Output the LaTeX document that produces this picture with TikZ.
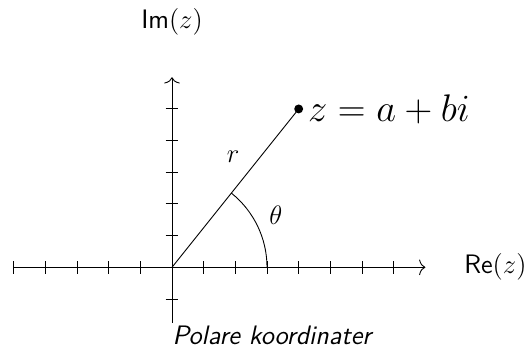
\documentclass[tikz,border=0pt]{standalone}
\usetikzlibrary{arrows.meta}
\begin{document}
\begin{tikzpicture}[x=0.5cm,y=0.5cm,
  axis/.style={thin,-{To[length=2.8pt,width=7pt]}},
  tick/.style={thin}]
\useasboundingbox (-5.431,-2.706) rectangle (11.146,8.44);
% axes
\coordinate (xs) at (-5,0);
\coordinate (xe) at (8,0);
\coordinate (ys) at (0,-1.75);
\coordinate (ye) at (0,6);
\coordinate (O) at (0,0);
\draw[axis] (xs) -- (xe);
\draw[axis] (ys) -- (ye);
\foreach \i in {-5,...,-1,1,2,...,7} \draw[tick] (\i,-0.2) -- (\i,0.2);
\foreach \j in {-1,1,2,...,5} \draw[tick] (-0.2,\j) -- (0.2,\j);
% point
\coordinate (P) at (4,5);
\draw (O) -- (P);
\fill (P) circle (2pt);
\node[anchor=west,inner sep=4pt] (zl) at (P) {\fontsize{16.5}{19}\selectfont $z=a+bi$};
% arc
\draw (3,0) arc[start angle=0,end angle={atan2(5,4)},radius=3];
\node (r) at (1.93,3.48) {\large $r$};
\node (th) at (3.28,1.65) {\large $\theta$};
% labels
\node (im) at (0,7.74) {\large\textsf{Im}$(z)$};
\node (re) at (10.21,0) {\large\textsf{Re}$(z)$};
\node (cap) at (3.19,-2.15) {\large\textsf{\textit{Polare koordinater}}};
\end{tikzpicture}
\end{document}
